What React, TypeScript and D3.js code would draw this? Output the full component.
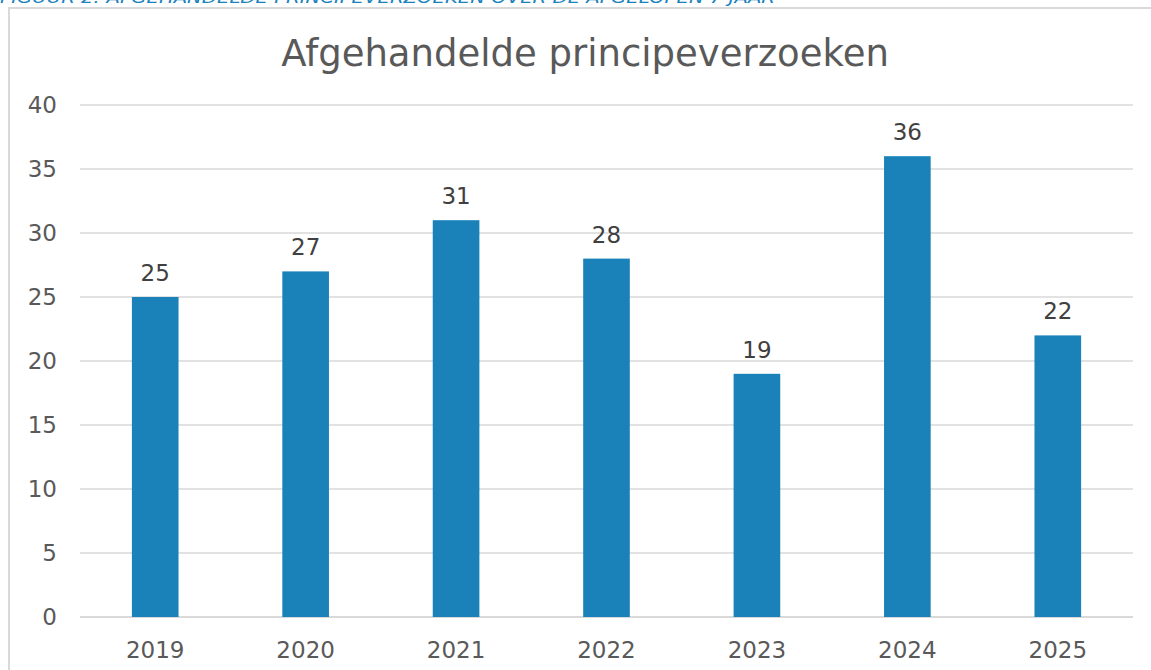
import React from "react";
import * as d3 from "d3";

const years = ["2019", "2020", "2021", "2022", "2023", "2024", "2025"];
const values = [25, 27, 31, 28, 19, 36, 22];
const yTicks = [0, 5, 10, 15, 20, 25, 30, 35, 40];
const title = "Afgehandelde principeverzoeken";
const caption = "FIGUUR 2: AFGEHANDELDE PRINCIPEVERZOEKEN OVER DE AFGELOPEN 7 JAAR";

const W = 1151;
const H = 670;
const font = "'DejaVu Sans', Verdana, sans-serif";

export default function App() {
  const x = d3.scaleBand<string>().domain(years).range([80, 1133]).paddingInner(0.69).paddingOuter(0.345);
  const y = d3.scaleLinear().domain([0, 40]).range([617, 105]);
  return (
    <svg width={W} height={H} style={{ position: "absolute", left: 0, top: 0, background: "#fff" }}>
      <text x={0} y={3} fill="#1a82bd" fontStyle="italic" fontSize={15} fontFamily={font} textLength={775} lengthAdjust="spacingAndGlyphs">
        {caption}
      </text>
      <rect x={9} y={8} width={1160} height={680} fill="#fff" stroke="#d9d9d9" strokeWidth={2} />
      <text x={585} y={66} textAnchor="middle" fill="#595959" fontSize={37} fontFamily={font}>
        {title}
      </text>
      {yTicks.map((t) => (
        <g key={t}>
          <line x1={80} x2={1133} y1={y(t)} y2={y(t)} stroke="#d9d9d9" strokeWidth={t === 0 ? 2 : 1.5} />
          <text x={57} y={y(t)} dy="0.35em" textAnchor="end" fill="#595959" fontSize={23} fontFamily={font}>
            {t}
          </text>
        </g>
      ))}
      {years.map((yr, i) => (
        <g key={yr}>
          <rect x={x(yr)} y={y(values[i])} width={x.bandwidth()} height={y(0) - y(values[i])} fill="#1a82b8" />
          <text x={(x(yr) as number) + x.bandwidth() / 2} y={y(values[i]) - 16} textAnchor="middle" fill="#404040" fontSize={23} fontFamily={font}>
            {values[i]}
          </text>
          <text x={(x(yr) as number) + x.bandwidth() / 2} y={658} textAnchor="middle" fill="#595959" fontSize={23} fontFamily={font}>
            {yr}
          </text>
        </g>
      ))}
    </svg>
  );
}
